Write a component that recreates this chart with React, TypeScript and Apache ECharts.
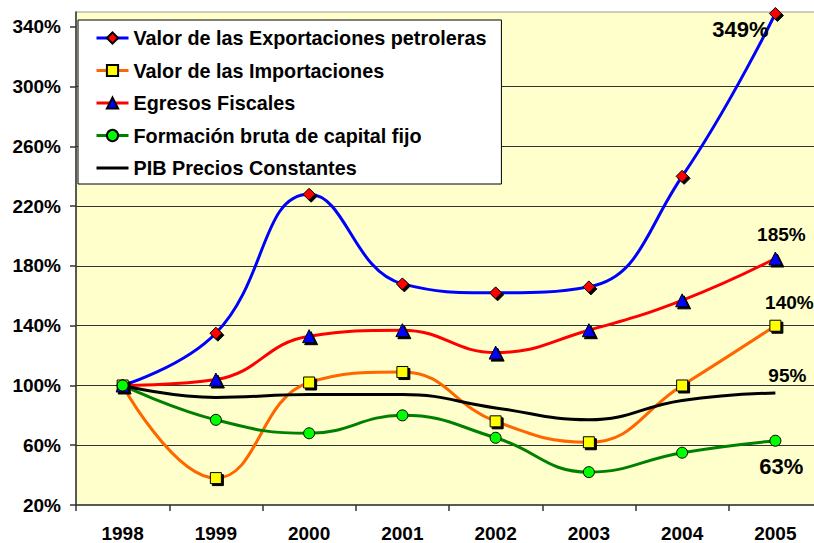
import React, { useEffect, useRef } from 'react';
import * as echarts from 'echarts';

const years = ['1998', '1999', '2000', '2001', '2002', '2003', '2004', '2005'];
const exportaciones = [100, 135, 228, 168, 162, 166, 240, 349];
const importaciones = [100, 38, 102, 109, 76, 62, 100, 140];
const egresos = [100, 104, 133, 137, 122, 137, 157, 185];
const formacion = [100, 77, 68, 80, 65, 42, 55, 63];
const pib = [100, 92, 94, 94, 85, 77, 90, 95];
const yTicks = [20, 60, 100, 140, 180, 220, 260, 300, 340];

const names = [
  'Valor de las Exportaciones petroleras',
  'Valor de las Importaciones',
  'Egresos Fiscales',
  'Formación bruta de capital fijo',
  'PIB Precios Constantes',
];

const FONT = '"Liberation Sans", Arial, sans-serif';

export default function App() {
  const ref = useRef<HTMLDivElement>(null);
  useEffect(() => {
    if (!ref.current) return;
    const chart = echarts.init(ref.current, undefined, { renderer: 'svg' });
    const shadow = { shadowColor: '#000', shadowOffsetX: 2, shadowOffsetY: 2, shadowBlur: 0 };
    const endLabel = (dx: number, dy: number, size: number) => ({
      show: true,
      formatter: '{c}%',
      align: 'center',
      verticalAlign: 'middle',
      distance: 0,
      offset: [dx, dy],
      fontFamily: FONT,
      fontWeight: 'bold',
      fontSize: size,
      color: '#000',
    });
    const mk = (
      name: string,
      data: number[],
      lineColor: string,
      symbol: string,
      symbolSize: number,
      fill: string,
      label: any,
      withShadow: boolean
    ) => ({
      name,
      type: 'line',
      data,
      smooth: 0.45,
      symbol,
      symbolSize,
      showSymbol: symbol !== 'none',
      lineStyle: { color: lineColor, width: 3 },
      itemStyle: Object.assign(
        { color: fill, borderColor: '#000', borderWidth: 1 },
        withShadow ? shadow : {}
      ),
      endLabel: label,
      emphasis: { disabled: true },
      z: 2,
    });
    chart.setOption({
      animation: false,
      backgroundColor: '#fff',
      grid: {
        left: 76,
        top: 12,
        width: 746,
        bottom: 38,
        outerBoundsMode: 'none',
        containLabel: false,
        show: true,
        backgroundColor: '#FFFFCC',
        borderColor: '#9a9a9a',
        borderWidth: 1,
      },
      legend: {
        orient: 'vertical',
        left: 78,
        top: 20,
        padding: [8, 15, 6, 17],
        itemWidth: 32,
        itemHeight: 14,
        itemGap: 12.5,
        backgroundColor: '#fff',
        borderColor: '#000',
        borderWidth: 1,
        borderRadius: 0,
        lineStyle: { width: 3 },
        data: [
          names[0],
          names[1],
          names[2],
          names[3],
          { name: names[4], itemStyle: { opacity: 0, borderWidth: 0 }, lineStyle: { width: 3, opacity: 1 } },
        ],
        textStyle: {
          fontFamily: FONT,
          fontWeight: 'bold',
          fontSize: 19.8,
          lineHeight: 20,
          color: '#000',
        },
      },
      xAxis: {
        type: 'category',
        data: years,
        boundaryGap: true,
        axisLine: { lineStyle: { color: '#333', width: 1.5 } },
        axisTick: { show: true, interval: 0, length: 6, lineStyle: { color: '#333', width: 1.5 } },
        axisLabel: {
          margin: 19,
          fontFamily: FONT,
          fontWeight: 'bold',
          fontSize: 19,
          color: '#000',
        },
        splitLine: { show: false },
      },
      yAxis: {
        type: 'value',
        min: 20,
        max: 350,
        interval: 40,
        axisLine: { show: true, lineStyle: { color: '#333', width: 1.5 } },
        axisTick: { show: true, length: 6, customValues: yTicks, lineStyle: { color: '#333', width: 1.5 } },
        axisLabel: {
          margin: 15,
          customValues: yTicks,
          formatter: '{value}%',
          fontFamily: FONT,
          fontWeight: 'bold',
          fontSize: 19,
          color: '#000',
        },
        splitLine: { show: true, showMinLine: false, showMaxLine: false, lineStyle: { color: '#333', width: 1 } },
      },
      series: [
        mk(names[0], exportaciones, '#0000FF', 'diamond', 12, '#FF0000', endLabel(-35, 16, 22), true),
        mk(names[1], importaciones, '#FF6600', 'rect', 11, '#FFFF00', endLabel(14, -23, 19), true),
        mk(names[2], egresos, '#FF0000', 'triangle', 13, '#0000FF', endLabel(6, -24, 19), true),
        mk(names[3], formacion, '#008000', 'circle', 11, '#00FF00', endLabel(6, 26, 22), false),
        mk(names[4], pib, '#000000', 'none', 0, '#000000', endLabel(12, -17, 19), false),
      ],
    });
    return () => chart.dispose();
  }, []);
  return (
    <div
      ref={ref}
      style={{ position: 'absolute', left: 0, top: 0, width: 814, height: 543 }}
    />
  );
}
